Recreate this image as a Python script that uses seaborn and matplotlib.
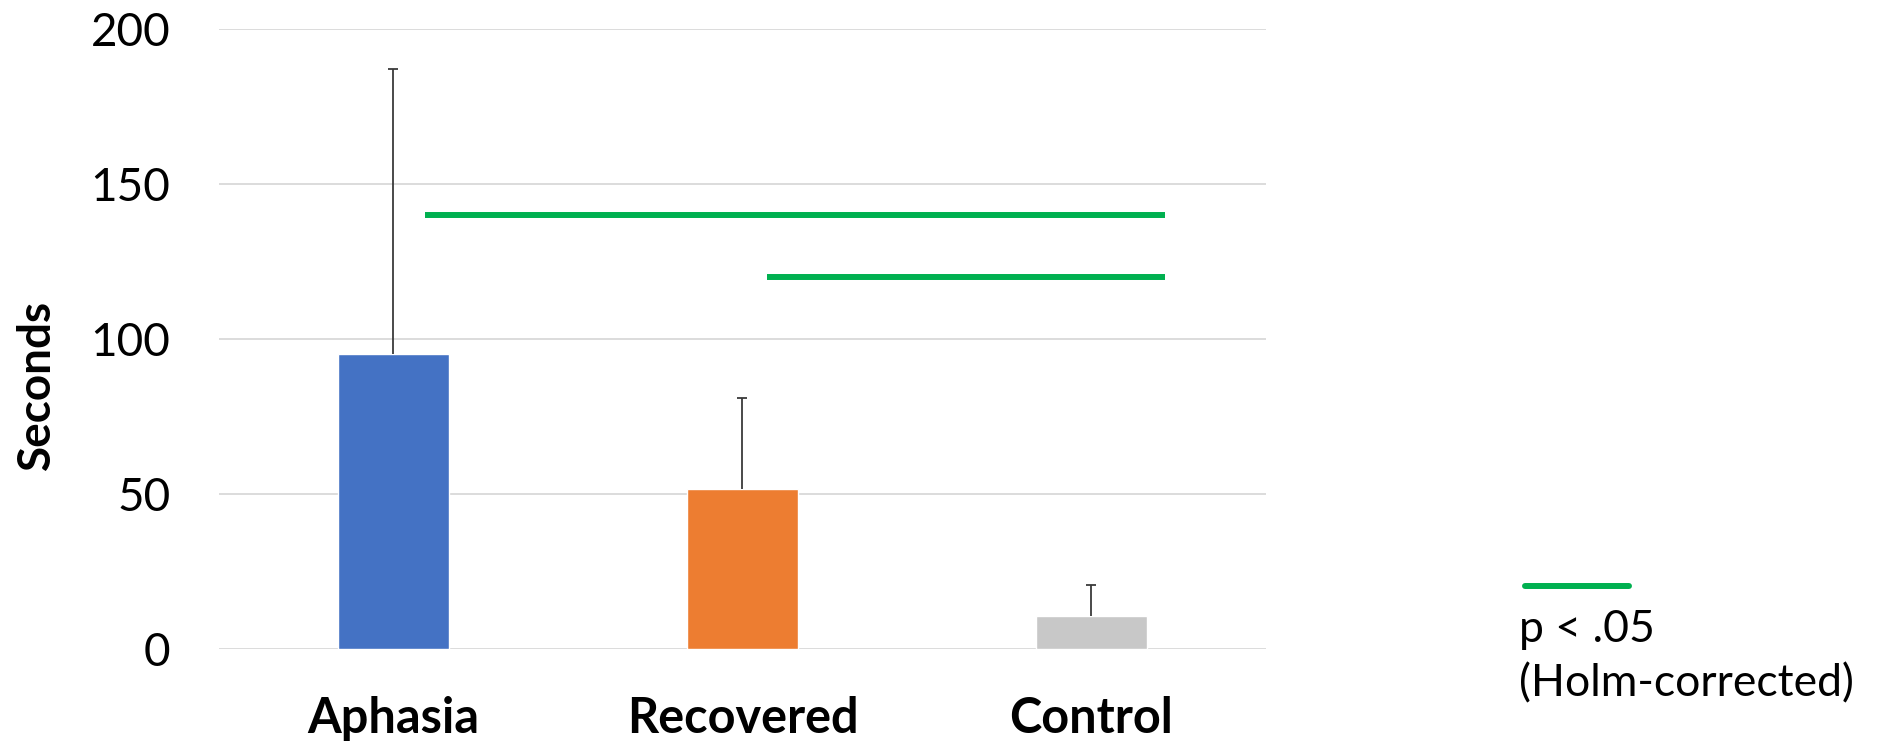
import matplotlib
matplotlib.use("Agg")
import matplotlib.pyplot as plt
from matplotlib.lines import Line2D
import seaborn as sns
import pandas as pd
import numpy as np

# Group means and standard deviations (seconds)
groups = ["Aphasia", "Recovered", "Control"]
mean_seconds = [95, 51.5, 10.5]
sd_seconds = [92, 29.5, 10]
bar_colors = ["#4472C4", "#ED7D31", "#C8C8C8"]

# Significant pairwise comparisons: (height, start, end) in category units
sig_heights = [140, 120]
sig_starts = [0.09, 1.07]
sig_ends = [2.21, 2.21]

yticks = [0, 50, 100, 150, 200]

sns.set_theme(style="white")
plt.rcParams["font.family"] = ["Lato", "DejaVu Sans"]

fig = plt.figure(figsize=(18.78, 7.41), dpi=100)
ax = fig.add_axes([0.1166, 0.1242, 0.5575, 0.8371])

df = pd.DataFrame({"group": groups, "seconds": mean_seconds})
sns.barplot(data=df, x="group", y="seconds", hue="group", palette=bar_colors,
            order=groups, hue_order=groups, width=0.316, errorbar=None,
            legend=False, ax=ax, zorder=2, saturation=1)

# One-sided (upper) standard deviation bars
xpos = np.arange(len(groups))
eb = ax.errorbar(xpos, mean_seconds, yerr=[np.zeros(len(groups)), sd_seconds],
                 fmt="none", ecolor="#3a3a3a", elinewidth=1.3, capsize=3.6,
                 capthick=1.3, zorder=3)
eb[1][0].set_visible(False)

# Significance bars
ax.hlines(sig_heights, sig_starts, sig_ends, colors="#00B050", linewidth=4.3,
          zorder=3)

ax.set_xlim(-0.5, 2.5)
ax.set_ylim(0, 200)
ax.set_yticks(yticks)
ax.yaxis.grid(True, color="#D9D9D9", linewidth=1.3, zorder=0)
ax.xaxis.grid(False)
ax.set_axisbelow(True)
for s in ax.spines.values():
    s.set_visible(False)
ax.tick_params(axis="both", length=0)
ax.tick_params(axis="y", labelsize=33, pad=35, colors="black")
ax.tick_params(axis="x", labelsize=35, pad=34, colors="black")
for lab in ax.get_xticklabels():
    lab.set_fontweight("bold")
ax.set_xlabel("")
ax.set_ylabel("Seconds", fontsize=33, fontweight="bold", color="black")
ax.yaxis.set_label_coords(-0.154, 0.425)

# Legend for the significance bars
fig.add_artist(Line2D([1525 / 1878, 1629 / 1878], [1 - 585.6 / 741] * 2,
                      transform=fig.transFigure, color="#00B050",
                      linewidth=4.3))
fig.text(1519 / 1878, 1 - 629 / 741, "p < .05", fontsize=32, va="center",
         ha="left", color="black")
fig.text(1519 / 1878, 1 - 684 / 741, "(Holm-corrected)", fontsize=32,
         va="center", ha="left", color="black")

fig.savefig("out.png", dpi=100, facecolor="white")
